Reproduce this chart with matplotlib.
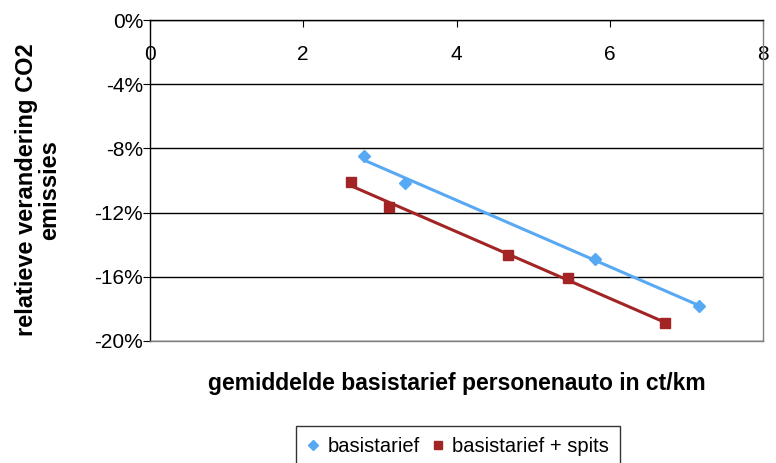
import numpy as np
import matplotlib
matplotlib.use("Agg")
import matplotlib.pyplot as plt
from matplotlib.ticker import FuncFormatter

plt.rcParams['font.family'] = ['Liberation Sans', 'DejaVu Sans']

# Data
basis_x = [2.79, 3.33, 5.81, 7.17]
basis_y = [-8.47, -10.16, -14.89, -17.82]
spits_x = [2.62, 3.12, 4.67, 5.46, 6.72]
spits_y = [-10.09, -11.65, -14.64, -16.07, -18.88]
x_ticks = [0, 2, 4, 6, 8]
y_ticks = [0, -4, -8, -12, -16, -20]

blue = '#58A9F4'
red = '#A32424'

fig = plt.figure(figsize=(7.76, 4.63), dpi=100)
ax = fig.add_axes([150/776, 1-341/463, 613/776, 321/463])

for xs, ys, col, mk, lab in [(basis_x, basis_y, blue, 'D', 'basistarief'),
                             (spits_x, spits_y, red, 's', 'basistarief + spits')]:
    ax.plot(xs, ys, linestyle='none', marker=mk, color=col, markersize=7 if mk == 's' else 6.5, label=lab, zorder=4)
    k, b = np.polyfit(xs, ys, 1)
    xx = np.array([min(xs), max(xs)])
    ax.plot(xx, k*xx + b, color=col, lw=2.2, zorder=3)

ax.set_xlim(0, 8)
ax.set_ylim(-20, 0)
ax.set_xticks(x_ticks)
ax.set_yticks(y_ticks)
ax.yaxis.set_major_formatter(FuncFormatter(lambda v, p: f"{int(round(v))}%"))
ax.grid(axis='y', color='black', lw=1)
ax.set_axisbelow(True)

ax.tick_params(axis='x', bottom=False, labelbottom=False, top=True, labeltop=True,
               direction='in', length=5, pad=-32, labelsize=15)
ax.tick_params(axis='y', direction='out', length=5, labelsize=15, pad=0)
for s in ['left', 'top']:
    ax.spines[s].set_color('black')
    ax.spines[s].set_linewidth(1)
for s in ['right', 'bottom']:
    ax.spines[s].set_color('#808080')
    ax.spines[s].set_linewidth(1)

ax.set_xlabel('gemiddelde basistarief personenauto in ct/km', fontsize=16.5, fontweight='bold', labelpad=22)
ax.set_ylabel('relatieve verandering CO2\nemissies', fontsize=17, fontweight='bold', linespacing=1.0)
ax.yaxis.set_label_coords((61-150)/613, (341-190)/321)

leg = fig.legend(loc='center', bbox_to_anchor=(458/776, 1-447/463), ncol=2, frameon=True,
                 fontsize=14.5, handlelength=0.6, handletextpad=0.4, columnspacing=0.6,
                 borderpad=0.55, fancybox=False, edgecolor='black', markerscale=0.75)
leg.get_frame().set_linewidth(1)

fig.savefig('out.png', dpi=100)
